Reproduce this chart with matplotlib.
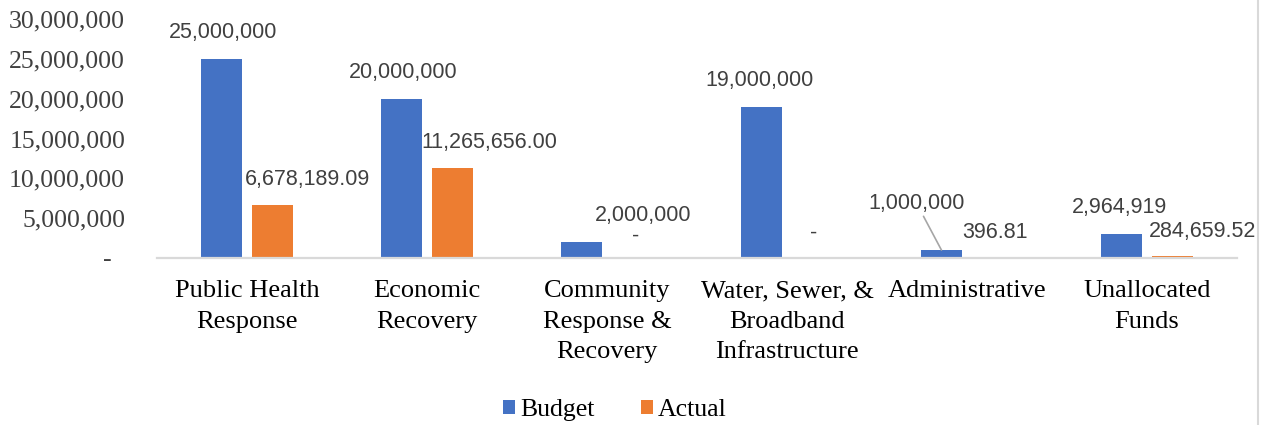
import numpy as np
import matplotlib
matplotlib.use("Agg")
import matplotlib.pyplot as plt
from matplotlib.lines import Line2D

categories = ["Public Health\nResponse", "Economic\nRecovery", "Community\nResponse &\nRecovery",
              "Water, Sewer, &\nBroadband\nInfrastructure", "Administrative", "Unallocated\nFunds"]
budget = [25000000, 20000000, 2000000, 19000000, 1000000, 2964919]
actual = [6678189.09, 11265656.00, 0, 0, 396.81, 284659.52]
yticks = [0, 5000000, 10000000, 15000000, 20000000, 25000000, 30000000]

# label offsets in pixels (dx, dy) - Excel had them dragged around
budget_off = [(1.5, 26), (1.5, 26), (62, 27), (-2, 26), (-25, 47), (-2, 27)]
actual_off = [(34.5, 25), (36.5, 26), (3, 22), (1.5, 25), (2.5, 25), (30.5, 24)]

blue = "#4472C4"
orange = "#ED7D31"
serif = "Liberation Serif"

fig = plt.figure(figsize=(12.68, 4.25), dpi=100)
ax = fig.add_axes([157/1268, 1 - 258/425, 1080/1268, 239/425])

x = np.arange(len(categories))
w = 0.225
ax.bar(x - 0.142, budget, w, color=blue, label="Budget")
ax.bar(x + 0.142, actual, w, color=orange, label="Actual")

def acct(v, dec):
    if v == 0:
        return "-"
    return f"{v:,.{dec}f}"

for i in range(len(categories)):
    dx, dy = budget_off[i]
    arrow = None
    if i == 4:
        arrow = dict(arrowstyle="-", color="#A6A6A6", lw=1.2, shrinkA=0, shrinkB=0)
    ax.annotate(acct(budget[i], 0), xy=(x[i] - 0.142, budget[i]), xytext=(dx, dy),
                textcoords="offset pixels", ha="center", va="center",
                fontsize=15.5, family="Liberation Sans", color="#404040",
                arrowprops=arrow)
    dx, dy = actual_off[i]
    ax.annotate(acct(actual[i], 2), xy=(x[i] + 0.142, actual[i]), xytext=(dx, dy),
                textcoords="offset pixels", ha="center", va="center",
                fontsize=15.5, family="Liberation Sans", color="#404040")

ax.set_xlim(-0.5, len(categories) - 0.5)
ax.set_ylim(0, 30000000)
ax.set_yticks(yticks)
ax.set_yticklabels(["-  " if t == 0 else f"{t:,}" for t in yticks],
                   family=serif, fontsize=18.5, color="#404040")
ax.set_xticks(x)
ax.set_xticklabels(categories, family=serif, fontsize=19, color="black", linespacing=1.5)
ax.tick_params(axis="y", length=0, pad=23)
ax.tick_params(axis="x", length=0, pad=16)

for s in ["top", "right", "left"]:
    ax.spines[s].set_visible(False)
ax.spines["bottom"].set_color("#D9D9D9")
ax.spines["bottom"].set_linewidth(1.6)

leg = fig.legend(loc="center", bbox_to_anchor=(0.485, 0.035), ncol=2, frameon=False,
                 prop={"family": serif, "size": 18.5}, handlelength=0.47, handleheight=0.47,
                 handletextpad=0.2, columnspacing=1.8)

fig.add_artist(Line2D([1258/1268, 1258/1268], [0, 1], color="#D9D9D9", lw=1.5))

fig.savefig("out.png", dpi=100)
